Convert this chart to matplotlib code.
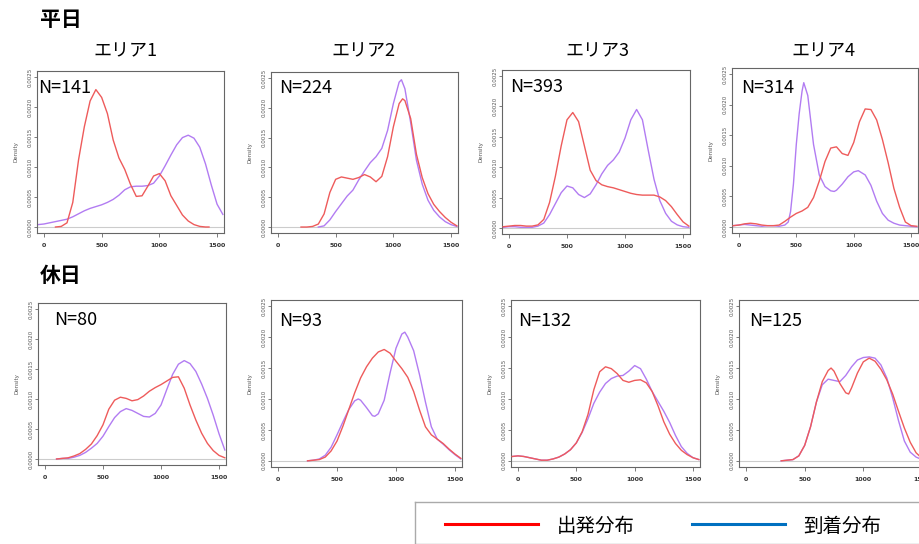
import matplotlib
matplotlib.use('Agg')
import matplotlib.pyplot as plt

plt.rcParams['font.family'] = ['Noto Sans CJK JP', 'DejaVu Sans']

# ---- data ----
areas = ['エリア1', 'エリア2', 'エリア3', 'エリア4']
n_weekday = [141, 224, 393, 314]
n_holiday = [80, 93, 132, 125]
legend_labels = ['出発分布', '到着分布']

# weekday, area 1
w1_dep_x = [100, 150, 200, 250, 300, 350, 400, 450, 500, 550, 600, 650, 700, 750, 800, 850,
            900, 950, 1000, 1050, 1100, 1150, 1200, 1250, 1300, 1350, 1400, 1430]
w1_dep_y = [0.0, 0.00001, 0.00007, 0.00041, 0.00112, 0.00167, 0.0021, 0.00229, 0.00216, 0.00189,
            0.00145, 0.00115, 0.00096, 0.00071, 0.00051, 0.00052, 0.00068, 0.00085, 0.00089,
            0.00077, 0.00052, 0.00036, 0.0002, 0.0001, 0.00004, 0.00001, 0.0, 0.0]
w1_arr_x = [-50, 0, 50, 100, 150, 200, 250, 300, 350, 400, 450, 500, 550, 600, 650, 700, 750, 800,
            850, 900, 950, 1000, 1050, 1100, 1150, 1200, 1250, 1300, 1350, 1400, 1450, 1500, 1550]
w1_arr_y = [0.00004, 0.00005, 0.00007, 0.00009, 0.00011, 0.00013, 0.00017, 0.00022, 0.00027,
            0.00031, 0.00034, 0.00037, 0.00041, 0.00046, 0.00053, 0.00062, 0.00067, 0.00068,
            0.00068, 0.00069, 0.00073, 0.00085, 0.00102, 0.0012, 0.00137, 0.00149, 0.00153,
            0.00148, 0.00133, 0.00105, 0.0007, 0.00038, 0.00021]

# weekday, area 2
w2_dep_x = [200, 250, 300, 350, 400, 450, 500, 550, 600, 650, 700, 750, 800, 850, 900, 950, 1000,
            1050, 1080, 1100, 1150, 1200, 1250, 1300, 1350, 1400, 1450, 1500, 1550]
w2_dep_y = [0.0, 0.0, 0.00001, 0.00005, 0.00022, 0.00058, 0.0008, 0.00084, 0.00082, 0.0008,
            0.00083, 0.00088, 0.00084, 0.00076, 0.00085, 0.00118, 0.00168, 0.00207, 0.00215,
            0.00212, 0.00182, 0.00122, 0.00083, 0.00056, 0.00038, 0.00026, 0.00016, 0.00008,
            0.00002]
w2_arr_x = [350, 400, 450, 500, 550, 600, 650, 700, 750, 800, 850, 900, 950, 1000, 1050, 1070,
            1100, 1150, 1200, 1250, 1300, 1350, 1400, 1450, 1500, 1550]
w2_arr_y = [0.0, 0.00002, 0.00012, 0.00026, 0.00039, 0.00052, 0.00062, 0.00079, 0.00094, 0.00108,
            0.00118, 0.00132, 0.00162, 0.00207, 0.00243, 0.00247, 0.00232, 0.00175, 0.00112,
            0.00072, 0.00045, 0.00028, 0.00017, 0.00009, 0.00004, 0.00001]

# weekday, area 3
w3_x = [-50, 0, 50, 100, 150, 200, 250, 300, 350, 400, 450, 500, 550, 600, 650, 700, 750, 800,
        850, 900, 950, 1000, 1050, 1100, 1150, 1200, 1250, 1300, 1350, 1400, 1450, 1500, 1550]
w3_dep_y = [0.00002, 0.00003, 0.00004, 0.00004, 0.00003, 0.00003, 0.00005, 0.00014, 0.00042,
            0.00085, 0.00135, 0.00178, 0.0019, 0.00175, 0.00135, 0.00095, 0.00078, 0.00071,
            0.00068, 0.00066, 0.00063, 0.0006, 0.00057, 0.00055, 0.00054, 0.00054, 0.00054,
            0.00051, 0.00045, 0.00035, 0.00022, 0.0001, 0.00003]
w3_arr_y = [0.00001, 0.00002, 0.00002, 0.00001, 0.00001, 0.00001, 0.00003, 0.00008, 0.00022,
            0.0004, 0.00058, 0.00069, 0.00066, 0.00055, 0.0005, 0.00056, 0.00071, 0.00089,
            0.00103, 0.00112, 0.00125, 0.00148, 0.00178, 0.00195, 0.00178, 0.00128, 0.0008,
            0.00045, 0.00024, 0.00011, 0.00005, 0.00002, 0.00001]

# weekday, area 4
w4_dep_x = [-50, 0, 50, 100, 150, 200, 250, 300, 350, 400, 450, 500, 550, 600, 650, 700, 750, 800,
            850, 900, 950, 1000, 1050, 1100, 1150, 1200, 1250, 1300, 1350, 1400, 1450, 1500, 1550]
w4_dep_y = [0.00002, 0.00003, 0.00005, 0.00006, 0.00005, 0.00003, 0.00002, 0.00002, 0.00003,
            0.00009, 0.00016, 0.00022, 0.00026, 0.00032, 0.00048, 0.00075, 0.00107, 0.00129,
            0.00131, 0.0012, 0.00117, 0.00138, 0.00172, 0.00193, 0.00192, 0.00175, 0.00143,
            0.00105, 0.00063, 0.00032, 0.00008, 0.00002, 0.00001]
w4_arr_x = [-50, 0, 50, 100, 150, 200, 250, 300, 350, 400, 430, 450, 475, 500, 525, 550, 565, 600,
            625, 650, 700, 750, 800, 830, 850, 900, 950, 1000, 1040, 1100, 1150, 1200, 1250,
            1300, 1350, 1400, 1450, 1500, 1550]
w4_arr_y = [0.00002, 0.00003, 0.00004, 0.00003, 0.00002, 0.00001, 0.00002, 0.00002, 0.00001,
            0.00003, 0.00008, 0.00025, 0.0007, 0.00135, 0.00185, 0.00222, 0.00236, 0.00215,
            0.00175, 0.00135, 0.00085, 0.00066, 0.00059, 0.00058, 0.0006, 0.0007, 0.00082,
            0.0009, 0.00092, 0.00085, 0.00068, 0.00042, 0.00022, 0.00011, 0.00006, 0.00003,
            0.00002, 0.00001, 0.0]

# holiday, area 1
h1_x = [100, 150, 200, 250, 300, 350, 400, 450, 500, 550, 600, 650, 700, 750, 800, 850, 900, 950,
        1000, 1050, 1100, 1150, 1200, 1250, 1300, 1350, 1400, 1450, 1500, 1550]
h1_dep_y = [0.0, 0.00001, 0.00002, 0.00005, 0.00009, 0.00016, 0.00025, 0.00039, 0.00057, 0.00083,
            0.00098, 0.00103, 0.00101, 0.00097, 0.00099, 0.00105, 0.00113, 0.00119, 0.00124,
            0.0013, 0.00136, 0.00137, 0.00118, 0.0009, 0.00065, 0.00043, 0.00026, 0.00014,
            0.00006, 0.00002]
h1_arr_y = [0.0, 0.00001, 0.00001, 0.00003, 0.00006, 0.00011, 0.00018, 0.00026, 0.00038, 0.00054,
            0.00069, 0.00079, 0.00084, 0.00081, 0.00076, 0.00071, 0.0007, 0.00076, 0.0009,
            0.00116, 0.00141, 0.00158, 0.00164, 0.00159, 0.00146, 0.00125, 0.00101, 0.00073,
            0.00042, 0.00015]

# holiday, area 2
h2_dep_x = [250, 300, 350, 400, 450, 500, 550, 600, 650, 700, 750, 800, 850, 900, 950, 1000, 1050,
            1100, 1150, 1200, 1250, 1300, 1350, 1400, 1450, 1500, 1550]
h2_dep_y = [0.0, 0.00001, 0.00002, 0.00006, 0.00016, 0.00032, 0.00056, 0.00083, 0.0011, 0.00134,
            0.00152, 0.00166, 0.00176, 0.0018, 0.00174, 0.00161, 0.00149, 0.00135, 0.00112,
            0.00082, 0.00055, 0.00042, 0.00035, 0.00028, 0.00019, 0.00011, 0.00004]
h2_arr_x = [250, 300, 350, 400, 450, 500, 550, 600, 650, 680, 700, 750, 800, 820, 850, 900, 950,
            1000, 1050, 1075, 1100, 1150, 1200, 1250, 1300, 1350, 1400, 1450, 1500, 1550]
h2_arr_y = [0.0, 0.00001, 0.00003, 0.00009, 0.00022, 0.00042, 0.00063, 0.00083, 0.00097, 0.001,
            0.00098, 0.00086, 0.00073, 0.00072, 0.00076, 0.00098, 0.00142, 0.00182, 0.00205,
            0.00208, 0.002, 0.00178, 0.00139, 0.00095, 0.00055, 0.00035, 0.00027, 0.00018,
            0.0001, 0.00003]

# holiday, area 3
h3_x = [-50, 0, 50, 100, 150, 200, 250, 300, 350, 400, 450, 500, 550, 600, 650, 700, 750, 800,
        850, 900, 950, 1000, 1050, 1100, 1150, 1200, 1250, 1300, 1350, 1400, 1450, 1500, 1550]
h3_dep_y = [0.00007, 0.00008, 0.00007, 0.00005, 0.00003, 0.00001, 0.00001, 0.00003, 0.00006,
            0.00011, 0.00018, 0.00029, 0.00047, 0.00075, 0.00115, 0.00144, 0.00152, 0.00149,
            0.00141, 0.0013, 0.00127, 0.0013, 0.00131, 0.00126, 0.00112, 0.00089, 0.00063,
            0.00043, 0.00028, 0.00017, 0.0001, 0.00005, 0.00002]
h3_arr_y = [0.00007, 0.00008, 0.00007, 0.00005, 0.00003, 0.00001, 0.00001, 0.00003, 0.00006,
            0.00011, 0.00018, 0.00029, 0.00046, 0.00068, 0.00093, 0.00111, 0.00125, 0.00133,
            0.00137, 0.00138, 0.00145, 0.00154, 0.00149, 0.00132, 0.00112, 0.00096, 0.0008,
            0.00062, 0.00041, 0.00023, 0.00012, 0.00005, 0.00002]

# holiday, area 4
h4_dep_x = [300, 350, 400, 450, 500, 550, 600, 650, 700, 725, 750, 800, 850, 875, 900, 950, 1000,
            1050, 1100, 1150, 1200, 1250, 1300, 1350, 1400, 1450, 1500, 1550]
h4_dep_y = [0.0, 0.00001, 0.00002, 0.00008, 0.00025, 0.00055, 0.00095, 0.00128, 0.00146, 0.0015,
            0.00145, 0.00125, 0.0011, 0.00108, 0.00118, 0.00142, 0.0016, 0.00166, 0.00161,
            0.00148, 0.00131, 0.00108, 0.0008, 0.00053, 0.0003, 0.00013, 0.00004, 0.00001]
h4_arr_x = [300, 350, 400, 450, 500, 550, 600, 650, 700, 750, 800, 850, 900, 950, 1000, 1050,
            1100, 1150, 1200, 1250, 1300, 1350, 1400, 1450, 1500, 1550]
h4_arr_y = [0.0, 0.00001, 0.00002, 0.00008, 0.00025, 0.00055, 0.00095, 0.00123, 0.00132, 0.0013,
            0.00128, 0.00138, 0.00152, 0.00163, 0.00167, 0.00168, 0.00166, 0.00155, 0.00134,
            0.00102, 0.00065, 0.00032, 0.00014, 0.00006, 0.00002, 0.0]

weekday = [(w1_dep_x, w1_dep_y, w1_arr_x, w1_arr_y),
           (w2_dep_x, w2_dep_y, w2_arr_x, w2_arr_y),
           (w3_x, w3_dep_y, w3_x, w3_arr_y),
           (w4_dep_x, w4_dep_y, w4_arr_x, w4_arr_y)]
holiday = [(h1_x, h1_dep_y, h1_x, h1_arr_y),
           (h2_dep_x, h2_dep_y, h2_arr_x, h2_arr_y),
           (h3_x, h3_dep_y, h3_x, h3_arr_y),
           (h4_dep_x, h4_dep_y, h4_arr_x, h4_arr_y)]

# ---- layout (pixels: left, top, right, bottom) ----
W, H = 920, 544
boxes_weekday = [(37, 71, 224, 233), (271, 72, 458, 233), (502, 70, 690, 234), (732, 68, 918, 233)]
boxes_holiday = [(38, 303, 226, 465), (271, 300, 462, 467), (511, 300, 700, 467), (739, 300, 929, 467)]
n_pos_weekday = [(38, 88), (279, 88), (510, 87), (741, 88)]
n_pos_holiday = [(54, 320), (279, 321), (518, 321), (749, 321)]
title_pos = [(125, 51), (363, 51), (597, 51), (823, 51)]

RED = '#EE5B5B'
PURPLE = '#B27CF2'
BOX = '#666666'

fig = plt.figure(figsize=(W / 100, H / 100), dpi=100)


def px(x, y):
    return x / W, 1 - y / H


def density_panel(box, curves, n, npos):
    l, t, r, b = box
    ax = fig.add_axes([l / W, 1 - b / H, (r - l) / W, (b - t) / H])
    dep_x, dep_y, arr_x, arr_y = curves
    ax.axhline(0, color='#CCCCCC', lw=0.8, zorder=1)
    ax.plot(arr_x, arr_y, color=PURPLE, lw=1.0, zorder=2)
    ax.plot(dep_x, dep_y, color=RED, lw=1.0, zorder=3)
    ax.set_xlim(-60, 1560)
    ax.set_ylim(-0.0001, 0.0026)
    ax.set_xticks([0, 500, 1000, 1500])
    ax.set_xticklabels(['0', '500', '1000', '1500'], fontsize=4.5, color='#333333',
                       family='DejaVu Sans', fontweight='bold')
    yt = [0, 0.0005, 0.001, 0.0015, 0.002, 0.0025]
    ax.set_yticks(yt)
    ax.set_yticklabels(['%.4f' % v for v in yt], fontsize=4, color='#555555',
                       rotation=90, va='center', family='DejaVu Sans')
    ax.tick_params(axis='x', length=3, width=0.6, color=BOX, pad=4)
    ax.tick_params(axis='y', length=2, width=0.6, color=BOX, pad=1.5)
    ax.set_ylabel('Density', fontsize=4, color='#555555', family='DejaVu Sans', labelpad=6)
    for s in ax.spines.values():
        s.set_color(BOX)
        s.set_linewidth(0.8)
    fx, fy = px(*npos)
    fig.text(fx, fy, 'N=%d' % n, fontsize=13, va='center', ha='left', color='black')
    return ax


for i in range(4):
    density_panel(boxes_weekday[i], weekday[i], n_weekday[i], n_pos_weekday[i])
    density_panel(boxes_holiday[i], holiday[i], n_holiday[i], n_pos_holiday[i])
    fx, fy = px(*title_pos[i])
    fig.text(fx, fy, areas[i], fontsize=13, ha='center', va='center')

fig.text(*px(40, 20), '平日', fontsize=15, fontweight='bold', ha='left', va='center')
fig.text(*px(40, 275), '休日', fontsize=15, fontweight='bold', ha='left', va='center')

# legend box
lax = fig.add_axes([415 / W, 0, (930 - 415) / W, (544 - 502) / H])
lax.set_xlim(415, 930)
lax.set_ylim(544, 502)
lax.set_xticks([])
lax.set_yticks([])
for s in lax.spines.values():
    s.set_color('#AAAAAA')
    s.set_linewidth(1.0)
lax.plot([445, 538], [524, 524], color='#FF0000', lw=2.2)
lax.text(557, 526, legend_labels[0], fontsize=14, va='center', ha='left')
lax.plot([692, 785], [524, 524], color='#0070C0', lw=2.2)
lax.text(803, 526, legend_labels[1], fontsize=14, va='center', ha='left')

fig.savefig('out.png', dpi=100)
